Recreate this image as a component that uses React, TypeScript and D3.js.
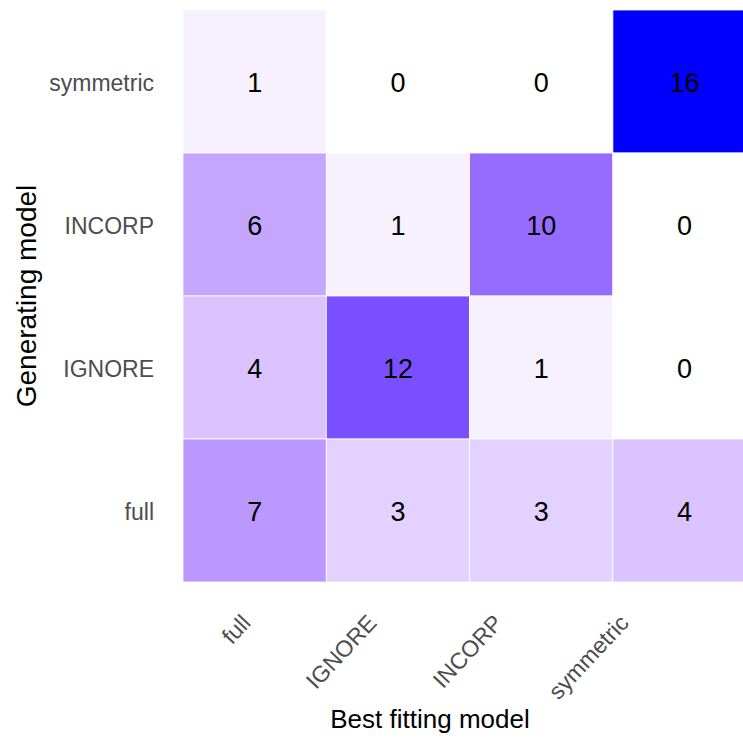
import React from "react";
import * as d3 from "d3";

const bestModels = ["full", "IGNORE", "INCORP", "symmetric"];
const genModels = ["symmetric", "INCORP", "IGNORE", "full"];
// counts[generating][best] in order of bestModels
const countsSymmetric = [1, 0, 0, 16];
const countsINCORP = [6, 1, 10, 0];
const countsIGNORE = [4, 12, 1, 0];
const countsFull = [7, 3, 3, 4];

const rows: Record<string, number[]> = {
  symmetric: countsSymmetric,
  INCORP: countsINCORP,
  IGNORE: countsIGNORE,
  full: countsFull,
};

const W = 743;
const H = 740;
const FONT = "'Liberation Sans', Arial, sans-serif";

export default function App() {
  const x = d3.scaleBand<string>().domain(bestModels).range([183, 183 + 4 * 143.3]);
  const y = d3.scaleBand<string>().domain(genModels).range([10, 582]);
  const maxV = d3.max(Object.values(rows).flat()) as number;
  const color = d3
    .scaleLinear<string>()
    .domain([0, maxV])
    .range(["#ffffff", "#0000ff"])
    .interpolate(d3.interpolateLab);
  const xLabel = d3.scaleLinear().domain([0, bestModels.length - 1]).range([252, 630]);

  const cells = genModels.flatMap((g) =>
    bestModels.map((b, i) => ({ g, b, v: rows[g][i] }))
  );

  return (
    <svg
      width={W}
      height={H}
      style={{ position: "absolute", left: 0, top: 0, display: "block", background: "#fff" }}
      fontFamily={FONT}
    >
      {cells.map((c) => (
        <rect
          key={c.g + c.b}
          x={x(c.b)}
          y={y(c.g)}
          width={x.bandwidth()}
          height={y.bandwidth()}
          fill={color(c.v)}
          stroke="#ffffff"
          strokeWidth={0.8}
        />
      ))}
      {cells.map((c) => (
        <text
          key={"t" + c.g + c.b}
          x={(x(c.b) as number) + x.bandwidth() / 2}
          y={(y(c.g) as number) + y.bandwidth() / 2}
          dy="0.38em"
          textAnchor="middle"
          fontSize={27}
          fill="#000"
        >
          {c.v}
        </text>
      ))}
      {genModels.map((g) => (
        <text
          key={"y" + g}
          x={154}
          y={(y(g) as number) + y.bandwidth() / 2}
          dy="0.42em"
          textAnchor="end"
          fontSize={23}
          fill="#4d4d4d"
        >
          {g}
        </text>
      ))}
      {bestModels.map((b, i) => (
        <text
          key={"x" + b}
          transform={`translate(${xLabel(i)},${624}) rotate(-47)`}
          textAnchor="end"
          fontSize={23}
          fill="#4d4d4d"
        >
          {b}
        </text>
      ))}
      <text x={430} y={728} textAnchor="middle" fontSize={26} fill="#000">
        Best fitting model
      </text>
      <text
        transform={`translate(36,${(10 + 582) / 2}) rotate(-90)`}
        textAnchor="middle"
        fontSize={28}
        fill="#000"
      >
        Generating model
      </text>
    </svg>
  );
}
